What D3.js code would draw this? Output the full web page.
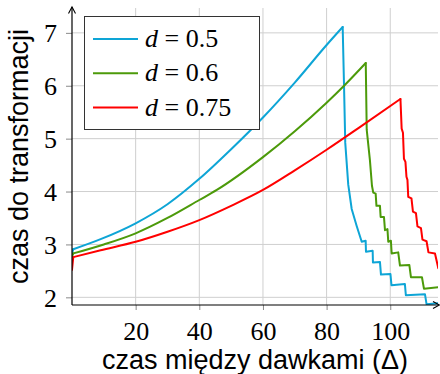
<!DOCTYPE html>
<html>
<head>
<meta charset="utf-8">
<script src="https://cdn.jsdelivr.net/npm/d3@7"></script>
<style>
  body { margin: 0; background: #fff; }
  svg { display: block; }
  .serif { font-family: "Liberation Serif", "Times New Roman", Times, "Noto Serif", "DejaVu Serif", serif; }
  .sans { font-family: "Liberation Sans", Arial, sans-serif; }
</style>
</head>
<body>
<svg id="chart" width="440" height="374"></svg>
<script>
// series values: [interval, time]
var blueRise = [[0, 2.83], [0.4, 2.91], [9, 3.10], [20, 3.40], [30, 3.76], [40, 4.24], [50, 4.80], [60, 5.40], [70, 6.06], [80, 6.77], [85.05, 7.11]];
var blueFall = [[85.05, 7.11], [85.45, 6.06], [85.86, 4.92], [86.8, 4.13], [87.88, 3.67], [89.45, 3.35], [91.03, 3.05], [92.27, 3.07], [92.37, 2.86], [94.47, 2.88], [94.56, 2.66], [96.76, 2.67], [97.08, 2.43], [100.06, 2.44], [100.38, 2.23], [104.6, 2.25], [104.9, 2.04], [110.9, 2.06], [111.4, 1.87], [115.1, 1.89]];

var greenRise = [[0, 2.77], [0.4, 2.83], [10, 3.00], [20, 3.21], [30, 3.50], [40, 3.84], [45.5, 4.03], [60, 4.65], [70, 5.14], [80, 5.68], [85.8, 6.02], [92.3, 6.43]];
var greenFall = [[92.3, 6.43], [92.6, 5.17], [93.6, 4.60], [94.25, 4.11], [94.66, 3.98], [95.41, 3.96], [95.66, 3.73], [96.76, 3.73], [96.98, 3.52], [98.02, 3.52], [98.34, 3.27], [99.12, 3.29], [99.37, 3.05], [100.2, 3.07], [100.44, 2.83], [102.5, 2.85], [103.05, 2.60], [106.0, 2.61], [106.5, 2.38], [109.96, 2.38], [110.6, 2.16], [115.1, 2.19]];

var redRise = [[0, 2.52], [0.4, 2.76], [9, 2.89], [20, 3.05], [30, 3.24], [40, 3.46], [50, 3.73], [60, 4.03], [70, 4.40], [80, 4.79], [90, 5.20], [103.2, 5.75]];
var redFall = [[103.2, 5.75], [103.58, 5.19], [103.99, 5.11], [104.3, 4.62], [104.77, 4.56], [105.09, 4.28], [105.4, 4.22], [105.65, 3.90], [106.66, 3.87], [107.13, 3.62], [108.07, 3.59], [108.55, 3.34], [109.65, 3.31], [110.12, 3.09], [111.4, 3.06], [112.0, 2.85], [114.05, 2.83], [115.1, 2.55]];

var legendLabels = ["0.5", "0.6", "0.75"];
var xTicks = [20, 40, 60, 80, 100];
var yTicks = [2, 3, 4, 5, 6, 7];

var series = [
  { label: legendLabels[0], rise: blueRise, fall: blueFall, color: "#0ea5d6" },
  { label: legendLabels[1], rise: greenRise, fall: greenFall, color: "#4c9a0a" },
  { label: legendLabels[2], rise: redRise, fall: redFall, color: "#ff0000" }
];

var svg = d3.select("#chart");

var x = d3.scaleLinear().domain([0, 115]).range([72, 438]);
var y = d3.scaleLinear().domain([1.855, 7.47]).range([305, 8]);

// grid
svg.append("g")
  .selectAll("line")
  .data(xTicks)
  .enter()
  .append("line")
  .attr("x1", d => x(d))
  .attr("x2", d => x(d))
  .attr("y1", y(1.855))
  .attr("y2", 8)
  .attr("stroke", "#cfcfcf")
  .attr("stroke-width", 1);

svg.append("g")
  .selectAll("line")
  .data(yTicks)
  .enter()
  .append("line")
  .attr("x1", x(0))
  .attr("x2", x(115))
  .attr("y1", d => y(d))
  .attr("y2", d => y(d))
  .attr("stroke", "#cfcfcf")
  .attr("stroke-width", 1);

// axes
var xAxis = d3.axisBottom(x).tickValues(xTicks).tickSize(5).tickPadding(6).tickFormat(d3.format("d"));
var yAxis = d3.axisLeft(y).tickValues(yTicks).tickSize(6).tickPadding(9).tickFormat(d3.format("d"));

var gx = svg.append("g").attr("transform", "translate(0," + y(1.855) + ")").call(xAxis);
var gy = svg.append("g").attr("transform", "translate(" + x(0) + ",0)").call(yAxis);

[gx, gy].forEach(g => {
  g.attr("font-family", null).attr("font-size", null);
  g.select(".domain").remove();
  g.selectAll(".tick line").attr("stroke", "#8a8a8a");
  g.selectAll(".tick text")
    .attr("class", "serif")
    .attr("fill", "#000")
    .attr("font-size", 26);
});
gx.selectAll(".tick text").attr("dy", "0.93em");
gy.selectAll(".tick text").attr("dy", "0.34em");

// curves
svg.append("clipPath")
  .attr("id", "clip")
  .append("rect")
  .attr("x", x(0))
  .attr("y", 8)
  .attr("width", x(115) - x(0))
  .attr("height", y(1.855) - 8);

var smoothLine = d3.line().x(d => x(d[0])).y(d => y(d[1])).curve(d3.curveMonotoneX);
var straightLine = d3.line().x(d => x(d[0])).y(d => y(d[1]));

var plot = svg.append("g").attr("clip-path", "url(#clip)");
series.forEach(s => {
  // short jump at the start, then the smooth rise, then the drop
  [straightLine(s.rise.slice(0, 2)), smoothLine(s.rise.slice(1)), straightLine(s.fall)].forEach(p => {
    plot.append("path")
      .attr("d", p)
      .attr("fill", "none")
      .attr("stroke", s.color)
      .attr("stroke-width", 2)
      .attr("stroke-linejoin", "round")
      .attr("stroke-linecap", "round");
  });
});

// axis lines with arrows
svg.append("line")
  .attr("x1", x(0)).attr("x2", 439)
  .attr("y1", y(1.855)).attr("y2", y(1.855))
  .attr("stroke", "#000").attr("stroke-width", 1.2);
svg.append("line")
  .attr("x1", x(0)).attr("x2", x(0))
  .attr("y1", y(1.855)).attr("y2", 7)
  .attr("stroke", "#000").attr("stroke-width", 1.2);
svg.append("path")
  .attr("d", "M433,301.5 L439.5,305 L433,308.5")
  .attr("fill", "none").attr("stroke", "#000").attr("stroke-width", 1.1);
svg.append("path")
  .attr("d", "M68.5,13.5 L72,7 L75.5,13.5")
  .attr("fill", "none").attr("stroke", "#000").attr("stroke-width", 1.1);

// legend
var legend = svg.append("g");
legend.append("rect")
  .attr("x", 84.5).attr("y", 16.5)
  .attr("width", 175).attr("height", 113)
  .attr("fill", "#fff")
  .attr("stroke", "#333")
  .attr("stroke-width", 1);

var rows = legend.selectAll("g.row")
  .data(series)
  .enter()
  .append("g")
  .attr("class", "row")
  .attr("transform", (d, i) => "translate(0," + (39 + i * 34.3) + ")");

rows.append("line")
  .attr("x1", 93).attr("x2", 138)
  .attr("y1", 0).attr("y2", 0)
  .attr("stroke", d => d.color)
  .attr("stroke-width", 2);

var lt = rows.append("text")
  .attr("class", "serif")
  .attr("x", 145)
  .attr("y", 8)
  .attr("font-size", 26);
lt.append("tspan").attr("font-style", "italic").text("d");
lt.append("tspan").text(d => " = " + d.label);

// axis titles
svg.append("text")
  .attr("class", "sans")
  .attr("x", (x(0) + x(115)) / 2)
  .attr("y", 369)
  .attr("text-anchor", "middle")
  .attr("font-size", 27)
  .text("czas między dawkami (Δ)");

svg.append("text")
  .attr("class", "sans")
  .attr("transform", "translate(28," + (y(1.855) + 8) / 2 + ") rotate(-90)")
  .attr("text-anchor", "middle")
  .attr("font-size", 27)
  .text("czas do transformacji");
</script>
</body>
</html>
